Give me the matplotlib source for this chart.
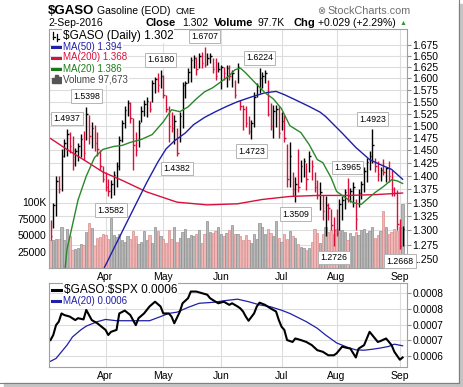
import numpy as np
import matplotlib.pyplot as plt
from matplotlib.lines import Line2D
from matplotlib.patches import Rectangle

plt.rcParams['font.family'] = ['Liberation Sans', 'DejaVu Sans']

# daily bars 3-Mar-2016 .. 2-Sep-2016, x = trading day index
high = [1.318, 1.350, 1.400, 1.400, 1.452, 1.472, 1.4937, 1.488, 1.478, 1.455,
        1.465, 1.482, 1.490, 1.5398, 1.522, 1.508, 1.502, 1.488, 1.450, 1.420,
        1.408, 1.395, 1.392, 1.410, 1.428, 1.478, 1.512, 1.540, 1.554, 1.550,
        1.515, 1.488, 1.512, 1.540, 1.554, 1.560, 1.552, 1.597, 1.603, 1.612,
        1.618, 1.608, 1.565, 1.540, 1.529, 1.523, 1.496, 1.529, 1.593, 1.595,
        1.623, 1.648, 1.652, 1.648, 1.657, 1.659, 1.6707, 1.657, 1.657, 1.646,
        1.646, 1.637, 1.630, 1.626, 1.630, 1.630, 1.619, 1.597, 1.634, 1.554,
        1.544, 1.540, 1.519, 1.5125, 1.570, 1.590, 1.6224, 1.614, 1.619, 1.597,
        1.548, 1.544, 1.544, 1.540, 1.529, 1.523, 1.462, 1.466, 1.407, 1.399,
        1.452, 1.432, 1.436, 1.426, 1.448, 1.432, 1.407, 1.392, 1.388, 1.365,
        1.362, 1.350, 1.338, 1.324, 1.338, 1.356, 1.362, 1.375, 1.3965, 1.378,
        1.388, 1.356, 1.375, 1.390, 1.418, 1.436, 1.448, 1.4923, 1.436, 1.430,
        1.418, 1.434, 1.418, 1.430, 1.412, 1.380, 1.374, 1.320, 1.307]
low = [1.283, 1.305, 1.325, 1.368, 1.372, 1.437, 1.440, 1.445, 1.412, 1.420,
       1.430, 1.438, 1.432, 1.470, 1.462, 1.455, 1.448, 1.440, 1.412, 1.388,
       1.372, 1.362, 1.3582, 1.365, 1.380, 1.412, 1.466, 1.495, 1.519, 1.505,
       1.412, 1.440, 1.456, 1.508, 1.519, 1.517, 1.529, 1.550, 1.569, 1.571,
       1.580, 1.558, 1.529, 1.466, 1.488, 1.462, 1.4382, 1.466, 1.496, 1.558,
       1.590, 1.593, 1.623, 1.608, 1.623, 1.623, 1.625, 1.630, 1.634, 1.612,
       1.597, 1.614, 1.578, 1.597, 1.582, 1.597, 1.582, 1.558, 1.590, 1.533,
       1.492, 1.498, 1.482, 1.4723, 1.498, 1.560, 1.569, 1.580, 1.590, 1.519,
       1.492, 1.475, 1.498, 1.475, 1.492, 1.466, 1.380, 1.380, 1.362, 1.3509,
       1.369, 1.388, 1.399, 1.374, 1.407, 1.393, 1.369, 1.356, 1.337, 1.319,
       1.290, 1.319, 1.301, 1.2726, 1.290, 1.300, 1.319, 1.338, 1.352, 1.352,
       1.343, 1.300, 1.343, 1.356, 1.369, 1.388, 1.412, 1.426, 1.407, 1.390,
       1.390, 1.403, 1.388, 1.388, 1.362, 1.362, 1.301, 1.2668, 1.272]
close = [1.290, 1.345, 1.390, 1.375, 1.440, 1.465, 1.482, 1.458, 1.425, 1.448,
         1.458, 1.472, 1.445, 1.525, 1.478, 1.495, 1.465, 1.452, 1.420, 1.395,
         1.380, 1.372, 1.385, 1.402, 1.420, 1.470, 1.505, 1.532, 1.548, 1.515,
         1.460, 1.450, 1.505, 1.530, 1.545, 1.552, 1.535, 1.590, 1.598, 1.585,
         1.605, 1.565, 1.535, 1.500, 1.495, 1.510, 1.445, 1.520, 1.585, 1.590,
         1.615, 1.640, 1.645, 1.620, 1.650, 1.635, 1.630, 1.645, 1.650, 1.620,
         1.605, 1.620, 1.625, 1.612, 1.622, 1.605, 1.612, 1.565, 1.625, 1.540,
         1.535, 1.505, 1.490, 1.505, 1.560, 1.585, 1.600, 1.605, 1.612, 1.525,
         1.500, 1.530, 1.535, 1.485, 1.510, 1.475, 1.395, 1.440, 1.375, 1.385,
         1.380, 1.420, 1.430, 1.395, 1.440, 1.420, 1.380, 1.365, 1.370, 1.335,
         1.345, 1.340, 1.310, 1.300, 1.295, 1.348, 1.355, 1.370, 1.362, 1.372,
         1.380, 1.320, 1.368, 1.385, 1.410, 1.428, 1.440, 1.460, 1.420, 1.405,
         1.412, 1.408, 1.415, 1.400, 1.375, 1.368, 1.312, 1.273, 1.302]
prev_close = 1.320
volume = [42, 43, 44, 44, 62, 43, 60, 48, 28, 29,
          30, 36, 35, 55, 69, 61, 33, 45, 47, 52,
          50, 44, 76, 50, 47, 52, 43, 40, 48, 44,
          56, 48, 36, 40, 56, 42, 51, 38, 62, 57,
          48, 44, 38, 58, 44, 62, 40, 46, 55, 60,
          45, 50, 48, 52, 58, 38, 52, 72, 55, 53,
          56, 62, 52, 48, 54, 58, 66, 52, 52, 48,
          42, 50, 42, 38, 52, 44, 69, 62, 52, 60,
          54, 48, 72, 46, 40, 52, 44, 56, 48, 45,
          36, 32, 30, 27, 30, 40, 60, 54, 38, 52,
          62, 55, 58, 52, 60, 58, 58, 55, 42, 54,
          48, 55, 51, 58, 60, 54, 56, 63, 46, 50,
          57, 87, 62, 52, 55, 60, 56, 62, 97.673]  # thousands

ma20_idx = [5, 6, 8, 10, 13, 16, 19, 23, 26, 29, 33, 37, 41, 44, 47, 50, 53, 56, 59, 62, 65, 67,
            69, 71, 74, 78, 81, 84, 87, 91, 94, 97, 99, 102, 104, 107, 110, 113, 115, 118, 121,
            124, 126, 128]
ma20_val = [1.220, 1.267, 1.310, 1.355, 1.400, 1.436, 1.452, 1.458, 1.460, 1.466, 1.472, 1.482,
            1.508, 1.533, 1.529, 1.539, 1.556, 1.571, 1.580, 1.593, 1.606, 1.619, 1.623, 1.612,
            1.593, 1.569, 1.556, 1.535, 1.500, 1.486, 1.462, 1.432, 1.426, 1.397, 1.371, 1.360,
            1.350, 1.347, 1.356, 1.369, 1.380, 1.393, 1.391, 1.386]
ma50_idx = [19, 23, 27, 31, 35, 39, 42, 45, 49, 52, 56, 60, 64, 68, 73, 78, 82, 85, 89, 94, 98,
            100, 106, 111, 116, 120, 124, 128]
ma50_val = [1.230, 1.268, 1.307, 1.347, 1.388, 1.427, 1.453, 1.469, 1.485, 1.502, 1.517, 1.529,
            1.540, 1.550, 1.560, 1.569, 1.572, 1.565, 1.554, 1.540, 1.528, 1.519, 1.485, 1.456,
            1.432, 1.422, 1.413, 1.394]
ma200_idx = [0, 6, 13, 19, 26, 35, 46, 57, 68, 77, 87, 97, 108, 118, 128]
ma200_val = [1.474, 1.452, 1.4285, 1.408, 1.392, 1.370, 1.351, 1.346, 1.348, 1.356, 1.3616,
             1.3635, 1.3635, 1.365, 1.368]

# $GASO:$SPX ratio and its MA(20)
ratio_idx = [0, 1, 2, 3, 4, 5, 7, 9, 10, 12, 13, 14, 15, 17, 20, 21, 22, 24, 25, 27, 29, 31, 32,
             34, 36, 38, 40, 41, 43, 44, 45, 47, 48, 50, 51, 53, 55, 57, 58, 60, 61, 63, 65, 66,
             68, 69, 70, 71, 72, 74, 75, 76, 78, 80, 82, 83, 84, 85, 86, 88, 89, 91, 93, 95, 97,
             99, 101, 103, 104, 106, 109, 111, 112, 114, 116, 119, 120, 122, 124, 125, 127, 128]
ratio_val = [0.000651, 0.000667, 0.000698, 0.000709, 0.000735, 0.000730, 0.000725, 0.000714,
             0.000720, 0.000716, 0.000746, 0.000730, 0.000714, 0.000704, 0.000683, 0.000667,
             0.000677, 0.000683, 0.000735, 0.000744, 0.000730, 0.000698, 0.000720, 0.000735,
             0.000757, 0.000772, 0.000757, 0.000735, 0.000735, 0.000725, 0.000704, 0.000740,
             0.000767, 0.000783, 0.000804, 0.000804, 0.000799, 0.000794, 0.000783, 0.000772,
             0.000767, 0.000772, 0.000762, 0.000767, 0.000757, 0.000751, 0.000741, 0.000725,
             0.000712, 0.000735, 0.000757, 0.000769, 0.000762, 0.000751, 0.000741, 0.000714,
             0.000693, 0.000683, 0.000651, 0.000645, 0.000656, 0.000651, 0.000645, 0.000635,
             0.000619, 0.000614, 0.000603, 0.000603, 0.000609, 0.000630, 0.000624, 0.000596,
             0.000624, 0.000635, 0.000677, 0.000645, 0.000648, 0.000656, 0.000635, 0.000614,
             0.000589, 0.000596]
ratio_ma_idx = [0, 2, 4, 6, 8, 11, 13, 17, 20, 24, 28, 32, 36, 40, 43, 46, 50, 54, 59, 64, 68,
                72, 76, 80, 84, 87, 90, 93, 97, 100, 104, 108, 111, 114, 117, 120, 123, 125, 128]
ratio_ma_val = [0.000584, 0.000593, 0.000614, 0.000635, 0.000661, 0.000683, 0.000695, 0.000709,
                0.000716, 0.000712, 0.000712, 0.000712, 0.000712, 0.000725, 0.000735, 0.000739,
                0.000754, 0.000767, 0.000770, 0.000776, 0.000780, 0.000772, 0.000762, 0.000756,
                0.000745, 0.000735, 0.000722, 0.000709, 0.000688, 0.000667, 0.000642, 0.000628,
                0.000620, 0.000619, 0.000622, 0.000626, 0.000631, 0.000638, 0.000633]

month_pos = [20, 41, 62, 84, 104, 127]
month_lab = ['Apr', 'May', 'Jun', 'Jul', 'Aug', 'Sep']
price_ticks = [1.250, 1.275, 1.300, 1.325, 1.350, 1.375, 1.400, 1.425, 1.450, 1.475, 1.500,
               1.525, 1.550, 1.575, 1.600, 1.625, 1.650, 1.675]
vol_ticks = [25000, 50000, 75000, 100000]
vol_labels = ['25000', '50000', '75000', '100K']
ratio_ticks = [0.0006, 0.00065, 0.0007, 0.00075, 0.0008]
ratio_labels = ['0.0006', '0.0007', '0.0007', '0.0008', '0.0008']

# labelled swing highs / lows
swing_idx = [6, 13, 40, 56, 76, 117, 108, 22, 46, 73, 89, 103, 127]
swing_side = ['hi', 'hi', 'hi', 'hi', 'hi', 'hi', 'hi', 'lo', 'lo', 'lo', 'lo', 'lo', 'lo']

W, H = 464, 387
fig = plt.figure(figsize=(W / 100, H / 100), dpi=100)


def fx(px):
    return px / W


def fy(py):
    return 1 - py / H


RED = '#d8103c'
NAVY = '#1f1fa8'
GREEN = '#2a882a'
GRID = '#dddddd'
FRAME = '#a0a0a0'

idx = np.arange(len(close))
close_a = np.array(close)
down = close_a < np.concatenate([[prev_close], close_a[:-1]])
bar_col = np.where(down, RED, 'black')
xlim = (-0.55, 129.6)
rect = [fx(49), fy(268), fx(407) - fx(49), fy(29) - fy(268)]
plims = (1.2347, 1.712)

# grid layer
axg = fig.add_axes(rect)
axg.set_yscale('log')
axg.set_xlim(xlim)
axg.set_ylim(plims)
axg.set_xticks(month_pos)
axg.set_yticks(price_ticks)
axg.yaxis.set_minor_locator(plt.NullLocator())
axg.grid(True, color=GRID, lw=0.8)
axg.tick_params(length=0, labelbottom=False, labelleft=False)
for s in axg.spines.values():
    s.set_visible(False)

# volume layer
axv = fig.add_axes(rect)
axv.patch.set_visible(False)
axv.set_xlim(xlim)
axv.set_ylim(0, 364000)
axv.bar(idx, np.array(volume) * 1000, width=0.8,
        color=np.where(down, '#f2b6b6', '#b9b9b9'),
        edgecolor=np.where(down, '#d98c8c', '#8e8e8e'), lw=0.5)
axv.set_xticks([])
axv.set_yticks(vol_ticks, labels=vol_labels)
axv.tick_params(axis='y', length=0, pad=2, labelsize=7.5)
for s in axv.spines.values():
    s.set_visible(False)

# price layer
ax = fig.add_axes(rect)
ax.patch.set_visible(False)
ax.set_yscale('log')
ax.set_xlim(xlim)
ax.set_ylim(plims)
ax.vlines(idx, low, high, colors=bar_col, lw=1.0)
ax.hlines(close, idx, idx + 0.55, colors=bar_col, lw=1.0)
ax.plot(ma200_idx, ma200_val, color=RED, lw=1.0)
ax.plot(ma50_idx, ma50_val, color=NAVY, lw=1.0)
ax.plot(ma20_idx, ma20_val, color=GREEN, lw=1.0)

for i, side in zip(swing_idx, swing_side):
    v = high[i] if side == 'hi' else low[i]
    dy = 7.5 if side == 'hi' else -8.5
    ax.annotate(f'{v:.4f}', (i, v), xytext=(0, dy), textcoords='offset points',
                ha='center', va='center', fontsize=6.3, zorder=6, annotation_clip=False,
                bbox=dict(boxstyle='square,pad=0.25', fc='white', ec='#b4b4b4', lw=0.7))

ax.yaxis.tick_right()
ax.yaxis.set_minor_locator(plt.NullLocator())
ax.set_yticks(price_ticks, labels=[f'{t:.3f}' for t in price_ticks])
ax.tick_params(axis='y', length=3, width=0.8, color='#909090', pad=1, labelsize=7.5)
ax.set_xticks(month_pos, labels=month_lab)
ax.tick_params(axis='x', length=0, pad=3, labelsize=7.5)
for s in ax.spines.values():
    s.set_color(FRAME)

# lower panel: ratio vs S&P 500
axl = fig.add_axes([fx(49), fy(367), fx(407) - fx(49), fy(283) - fy(367)])
axl.set_xlim(xlim)
axl.set_ylim(0.000566, 0.000831)
axl.plot(ratio_ma_idx, ratio_ma_val, color=NAVY, lw=0.9)
axl.plot(ratio_idx, ratio_val, color='black', lw=1.5)
axl.yaxis.tick_right()
axl.set_yticks(ratio_ticks, labels=ratio_labels)
axl.tick_params(axis='y', length=3, width=0.8, color='#909090', pad=1, labelsize=7.3)
axl.set_xticks(month_pos, labels=month_lab)
axl.tick_params(axis='x', length=0, pad=3, labelsize=7.5)
axl.grid(True, color=GRID, lw=0.8)
axl.set_axisbelow(True)
for s in axl.spines.values():
    s.set_color(FRAME)

# header
fig.text(fx(48), fy(13.5), r'\$GASO', fontsize=9.5, fontweight='bold', va='baseline')
fig.text(fx(97), fy(13.5), 'Gasoline (EOD)', fontsize=7.5, va='baseline')
fig.text(fx(176), fy(13.5), 'CME', fontsize=6.5, va='baseline')
fig.text(fx(317), fy(13.5), '\u2297', fontsize=7, color='#707070', va='baseline')
fig.text(fx(327), fy(13.5), 'StockCharts.com', fontsize=7.8, color='#707070', va='baseline')
fig.text(fx(48), fy(26), '2-Sep-2016', fontsize=7.5, va='baseline')
fig.text(fx(146), fy(26), 'Close', fontsize=8, fontweight='bold', va='baseline')
fig.text(fx(182), fy(26), '1.302', fontsize=7.5, va='baseline')
fig.text(fx(214), fy(26), 'Volume', fontsize=8, fontweight='bold', va='baseline')
fig.text(fx(258), fy(26), '97.7K', fontsize=7.5, va='baseline')
fig.text(fx(293), fy(26), 'Chg', fontsize=8, fontweight='bold', va='baseline')
fig.text(fx(318), fy(26), '+0.029 (+2.29%)', fontsize=7.5, va='baseline')
fig.text(fx(400), fy(25), '\u25b2', fontsize=5, color='#2a9a2a', va='baseline')

# legend, main panel
box = dict(fc='white', ec='none', pad=0.6)
for x0, y0, y1 in [(53, 32, 39), (57, 33.5, 40.5)]:
    fig.add_artist(Line2D([fx(x0), fx(x0)], [fy(y0), fy(y1)], color='black', lw=0.9))
    fig.add_artist(Line2D([fx(x0), fx(x0 + 1.8)], [fy(y1 - 2), fy(y1 - 2)], color='black', lw=0.9))
fig.text(fx(63), fy(36), r'\$GASO (Daily) 1.302', fontsize=8.5, va='center', bbox=box)
leg = [(46.5, NAVY, 'MA(50) 1.394'), (57.5, RED, 'MA(200) 1.368'), (68.5, '#1a7a1a', 'MA(20) 1.386')]
for y, c, t in leg:
    fig.add_artist(Line2D([fx(52), fx(61)], [fy(y), fy(y)], color=c, lw=2.2))
    fig.text(fx(63), fy(y), t, fontsize=7, color=c, va='center', bbox=box)
for x0, hh in [(52.5, 5), (55.5, 8), (58.5, 6.5)]:
    fig.add_artist(Rectangle((fx(x0), fy(83)), fx(2.2), hh / H, color='#555555'))
fig.text(fx(63), fy(79), 'Volume 97,673', fontsize=7, color='#444444', va='center', bbox=box)

# legend, lower panel
fig.add_artist(Line2D([fx(52), fx(61)], [fy(290), fy(290)], color='black', lw=2.2))
fig.text(fx(64), fy(290), r'\$GASO:\$SPX 0.0006', fontsize=8.5, va='center', bbox=box)
fig.add_artist(Line2D([fx(52), fx(61)], [fy(301), fy(301)], color=NAVY, lw=2.2))
fig.text(fx(63), fy(301), 'MA(20) 0.0006', fontsize=7, color=NAVY, va='center', bbox=box)

# drop shadow round the chart image
fig.add_artist(Rectangle((fx(459), 0), fx(5), fy(4), color='#c4c4c4'))
fig.add_artist(Rectangle((fx(4), 0), fx(460), fy(383), color='#c4c4c4'))
fig.add_artist(Line2D([fx(459), fx(459)], [fy(383), fy(0)], color='#808080', lw=0.8))
fig.add_artist(Line2D([fx(0), fx(459)], [fy(383), fy(383)], color='#808080', lw=0.8))

fig.savefig('out.png', dpi=100)
